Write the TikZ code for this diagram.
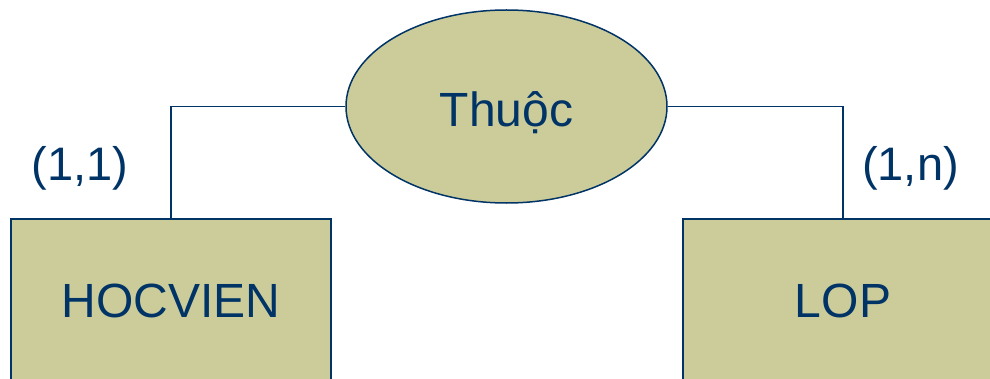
\documentclass[tikz,border=0pt]{standalone}
\usepackage{fontspec}
\setmainfont{Liberation Sans}
\usetikzlibrary{shapes.geometric}
\definecolor{boxfill}{HTML}{CBCC9A}
\definecolor{navy}{HTML}{003366}
\begin{document}
\begin{tikzpicture}[x=1pt,y=1pt,
  entity/.style={draw=navy, fill=boxfill, line width=2pt, rectangle, inner sep=0pt,
    minimum width=320pt, minimum height=162pt, text height=35.5pt, text depth=0pt,
    text=navy, font=\fontsize{48}{58}\selectfont},
  relation/.style={draw=navy, fill=boxfill, line width=1.5pt, ellipse, inner sep=0pt,
    minimum width=321pt, minimum height=193pt, text height=41pt, text depth=0pt,
    text=navy, font=\fontsize{48}{58}\selectfont},
  card/.style={text=navy, anchor=base, inner sep=0pt, font=\fontsize{47}{56}\selectfont},
  link/.style={draw=navy, line width=1.5pt}]
\useasboundingbox (0,0) rectangle (990,378);
\clip (0,0) rectangle (990,378);
\fill[white] (0,0) rectangle (990,378);
\node[entity] (hv) at (171,78) {HOCVIEN};
\node[entity] (lop) at (843,78) {LOP};
\node[relation] (rel) at (506.5,271.5) {Thuộc};
\draw[link] (rel.west) -| (hv.north);
\draw[link] (rel.east) -| (lop.north);
\node[card] (c1) at (80,197) {(1,1)};
\node[card] (c2) at (910.5,197) {(1,n)};
\end{tikzpicture}
\end{document}
